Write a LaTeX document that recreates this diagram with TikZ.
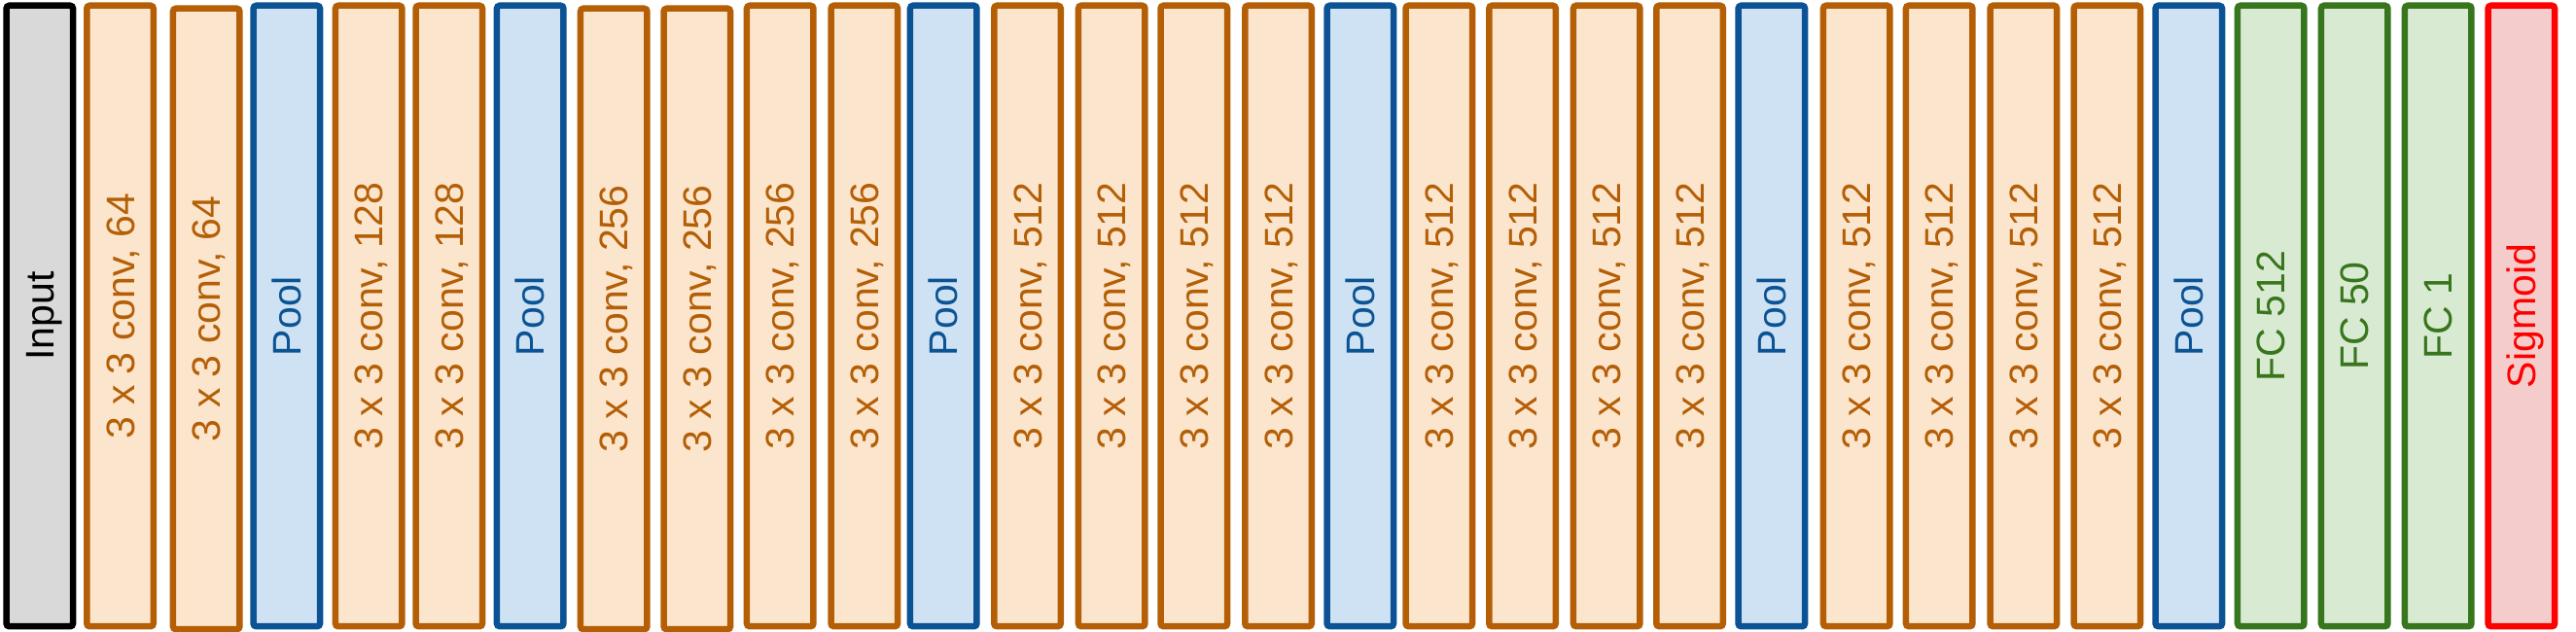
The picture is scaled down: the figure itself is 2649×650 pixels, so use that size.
\documentclass[tikz,border=0pt]{standalone}
\usepackage{fontspec}
\setmainfont{Liberation Sans}
\definecolor{inFill}{HTML}{D9D9D9}
\definecolor{convFill}{HTML}{FCE5CD}
\definecolor{convLine}{HTML}{B45F06}
\definecolor{poolFill}{HTML}{CFE2F3}
\definecolor{poolLine}{HTML}{0B5394}
\definecolor{fcFill}{HTML}{D9EAD3}
\definecolor{fcLine}{HTML}{38761D}
\definecolor{sigFill}{HTML}{F4CCCC}
\definecolor{sigLine}{HTML}{FF0000}
\tikzset{
  layer/.style={draw, line width=6.5pt, rounded corners=3pt, rotate=90,
    minimum width=638.5pt, minimum height=68.5pt, inner sep=0pt,
    font=\fontsize{41}{41}\selectfont, text height=29.5pt, text depth=0pt},
  inbox/.style={layer, fill=inFill, draw=black, text=black},
  convbox/.style={layer, fill=convFill, draw=convLine, text=convLine},
  poolbox/.style={layer, fill=poolFill, draw=poolLine, text=poolLine},
  fcbox/.style={layer, fill=fcFill, draw=fcLine, text=fcLine},
  sigbox/.style={layer, fill=sigFill, draw=sigLine, text=sigLine}
}
\begin{document}
\begin{tikzpicture}[x=1pt,y=1pt]
\useasboundingbox (0,0) rectangle (2649,650);
\node[inbox]   (n0)  at (40.8,325)   {Input};
\node[convbox] (n1)  at (123.5,325)  {3 x 3 conv, 64};
\node[convbox] (n2)  at (212.2,322)  {3 x 3 conv, 64};
\node[poolbox] (n3)  at (294.8,325)  {Pool};
\node[convbox] (n4)  at (379.2,325)  {3 x 3 conv, 128};
\node[convbox] (n5)  at (461.8,325)  {3 x 3 conv, 128};
\node[poolbox] (n6)  at (545.2,325)  {Pool};
\node[convbox] (n7)  at (631.2,322)  {3 x 3 conv, 256};
\node[convbox] (n8)  at (716.8,322)  {3 x 3 conv, 256};
\node[convbox] (n9)  at (802.2,325)  {3 x 3 conv, 256};
\node[convbox] (n10) at (888.8,325)  {3 x 3 conv, 256};
\node[poolbox] (n11) at (970.2,325)  {Pool};
\node[convbox] (n12) at (1056.5,325) {3 x 3 conv, 512};
\node[convbox] (n13) at (1143.2,325) {3 x 3 conv, 512};
\node[convbox] (n14) at (1227.8,325) {3 x 3 conv, 512};
\node[convbox] (n15) at (1314.5,325) {3 x 3 conv, 512};
\node[poolbox] (n16) at (1398.8,325) {Pool};
\node[convbox] (n17) at (1479.8,325) {3 x 3 conv, 512};
\node[convbox] (n18) at (1565.5,325) {3 x 3 conv, 512};
\node[convbox] (n19) at (1652.2,325) {3 x 3 conv, 512};
\node[convbox] (n20) at (1737.5,325) {3 x 3 conv, 512};
\node[poolbox] (n21) at (1821.8,325) {Pool};
\node[convbox] (n22) at (1909.2,325) {3 x 3 conv, 512};
\node[convbox] (n23) at (1994.2,325) {3 x 3 conv, 512};
\node[convbox] (n24) at (2080.8,325) {3 x 3 conv, 512};
\node[convbox] (n25) at (2166.8,325) {3 x 3 conv, 512};
\node[poolbox] (n26) at (2250.8,325) {Pool};
\node[fcbox]   (n27) at (2335.2,325) {FC 512};
\node[fcbox]   (n28) at (2421.2,325) {FC 50};
\node[fcbox]   (n29) at (2507.2,325) {FC 1};
\node[sigbox]  (n30) at (2592.8,325) {Sigmoid};
\end{tikzpicture}
\end{document}
